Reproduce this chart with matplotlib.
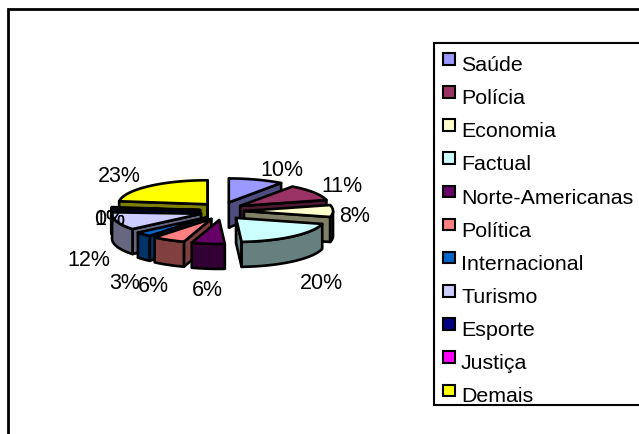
import numpy as np
import matplotlib
matplotlib.use("Agg")
import matplotlib.pyplot as plt
from matplotlib.patches import Polygon, Rectangle

plt.rcParams["font.family"] = ["Liberation Sans", "DejaVu Sans"]

categories = ["Saúde", "Polícia", "Economia", "Factual", "Norte-Americanas", "Política",
              "Internacional", "Turismo", "Esporte", "Justiça", "Demais"]
values = [10, 11, 8, 20, 6, 6, 3, 12, 0.3, 0.7, 23]
value_labels = ["10%", "11%", "8%", "20%", "6%", "6%", "3%", "12%", "0%", "1%", "23%"]
colors = ["#9999FF", "#993366", "#FFFFCC", "#CCFFFF", "#660066", "#FF8080",
          "#0066CC", "#CCCCFF", "#000080", "#FF00FF", "#FFFF00"]

# label centres in pixels
label_pos = [(282, 171), (342, 187), (355, 217), (321, 284), (207, 291), (153, 287),
             (125, 284), (89, 261), (110, 220), (110, 220), (119, 177)]

cx, cy = 222, 212
rx, ry = 89, 24
depth = 25
ex, ey = 22, 9


def pt(a, x0, y0, dz=0):
    # a in radians, clockwise from 12 o'clock
    return (x0 + rx * np.sin(a), y0 - ry * np.cos(a) + dz)


fig = plt.figure(figsize=(6.39, 4.35), dpi=100)
ax = fig.add_axes([0, 0, 1, 1])
ax.set_xlim(0, 639)
ax.set_ylim(435, 0)
ax.axis("off")

# outer chart frame
ax.add_patch(Rectangle((8, 10), 640, 440, fc="white", ec="black", lw=2, zorder=0))

fracs = np.array(values) / sum(values)
ends = np.cumsum(fracs) * 2 * np.pi
starts = ends - fracs * 2 * np.pi
mids = (starts + ends) / 2
order = sorted(range(len(values)), key=lambda i: -np.cos(mids[i]))

z = 2
for i in order:
    a0, a1, m = starts[i], ends[i], mids[i]
    x0 = cx + ex * np.sin(m)
    y0 = cy - ey * np.cos(m)
    side = tuple(0.5 * c for c in matplotlib.colors.to_rgb(colors[i]))
    kw = dict(fc=side, ec="black", lw=1.9, joinstyle="round")
    # radial cut faces that look toward the viewer
    for a, n in ((a0, a0 - np.pi / 2), (a1, a1 + np.pi / 2)):
        if np.cos(n) <= 0.01:
            p = pt(a, x0, y0)
            q = (x0, y0)
            ax.add_patch(Polygon([q, p, (p[0], p[1] + depth), (q[0], q[1] + depth)], zorder=z, **kw))
            z += 1
    # outer rim, front half only
    aa = np.linspace(a0, a1, 40)
    aa = aa[np.cos(aa) < 0]
    if len(aa) > 1:
        up = [pt(a, x0, y0) for a in aa]
        low = [pt(a, x0, y0, depth) for a in aa[::-1]]
        ax.add_patch(Polygon(up + low, zorder=z, **kw))
        z += 1
    # top face
    aa = np.linspace(a0, a1, 40)
    ax.add_patch(Polygon([(x0, y0)] + [pt(a, x0, y0) for a in aa], fc=colors[i], ec="black",
                         lw=1.9, joinstyle="round", zorder=z))
    z += 1

for (lx, ly), s in zip(label_pos, value_labels):
    ax.text(lx, ly, s, fontsize=15.5, ha="center", va="center", color="black", zorder=50)

# legend box, runs off the right edge like the source
ax.add_patch(Rectangle((434, 44), 220, 362, fc="white", ec="black", lw=1.5, zorder=60))
row_h = 33.15
for i, name in enumerate(categories):
    ax.add_patch(Rectangle((442.5, 54 + i * row_h), 12, 11.5, fc=colors[i], ec="black", lw=1.5, zorder=61))
    ax.text(461, 71 + i * row_h, name, fontsize=15.4, ha="left", va="baseline", color="black", zorder=61)

fig.savefig("out.png", dpi=100)
